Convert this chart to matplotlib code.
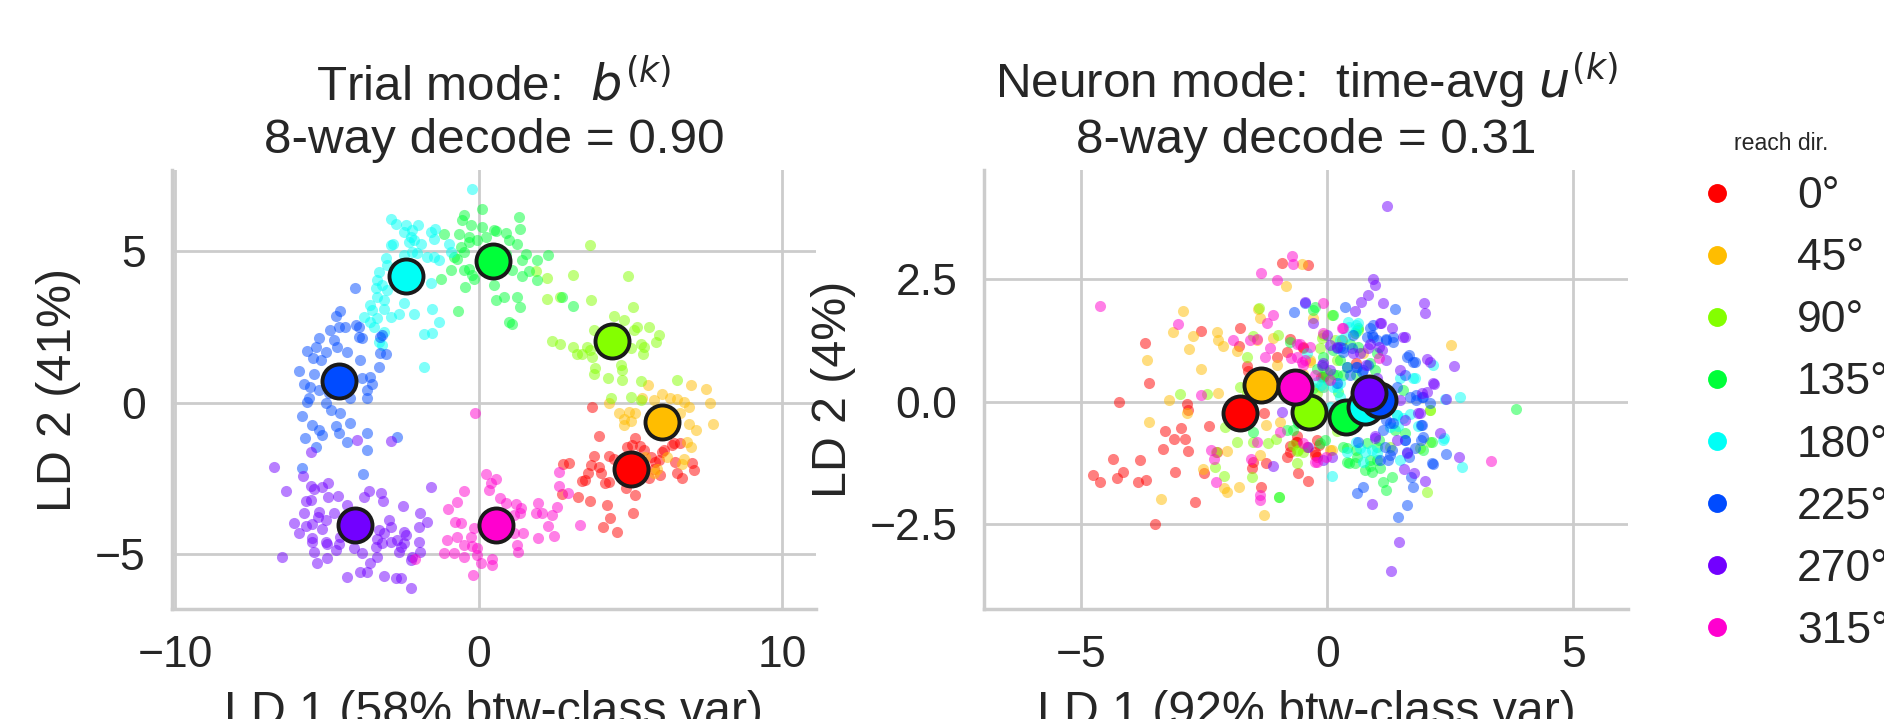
import matplotlib
matplotlib.use("Agg")
import matplotlib.pyplot as plt
from matplotlib.lines import Line2D
import numpy as np

plt.rcParams['font.family'] = ['Liberation Sans', 'DejaVu Sans']
plt.rcParams['axes.unicode_minus'] = True

# ---------------- data ----------------
dir_labels = ['0°', '45°', '90°', '135°', '180°', '225°', '270°', '315°']

trial_title = 'Trial mode:  $b^{(k)}$\n8-way decode = 0.90'
neuron_title = 'Neuron mode:  time-avg $u^{(k)}$\n8-way decode = 0.31'
trial_xlabel = 'LD 1 (58% btw-class var)'
trial_ylabel = 'LD 2 (41%)'
neuron_xlabel = 'LD 1 (92% btw-class var)'
neuron_ylabel = 'LD 2 (4%)'

trial_xticks = [-10, 0, 10]
trial_yticks = [-5, 0, 5]
neuron_xticks = [-5, 0, 5]
neuron_yticks = [-2.5, 0.0, 2.5]

# Trial-mode (left) trial projections per reach direction
trial_0 = [(3.74,-0.13),(3.96,-1.10),(5.17,-1.18),(5.06,-1.40),(4.90,-1.45),(5.31,-1.43),(5.45,-1.56),
           (6.05,-1.62),(6.10,-1.56),(6.43,-1.34),(6.65,-1.32),(6.38,-1.40),(4.29,-1.76),(3.80,-1.76),
           (4.46,-1.84),(4.68,-1.95),(3.69,-2.06),(3.96,-2.13),(2.79,-2.02),(2.98,-2.00),(3.60,-2.33),
           (4.02,-2.31),(3.41,-2.57),(3.52,-2.55),(4.18,-2.64),(4.29,-2.60),(5.67,-1.78),(5.83,-1.95),
           (5.94,-1.89),(5.78,-2.17),(5.99,-2.38),(5.61,-2.49),(6.49,-1.95),(7.04,-2.00),(7.09,-2.22),
           (6.54,-2.33),(6.71,-2.49),(4.86,-2.82),(5.14,-3.04),(2.76,-3.01),(3.27,-3.12),(3.67,-3.23),
           (4.22,-3.37),(4.33,-3.81),(5.09,-3.62),(4.10,-4.09),(4.55,-4.27),(5.3,-2.5),(5.5,-2.2)]
trial_45 = [(5.59,0.58),(7.00,0.58),(7.51,0.44),(7.62,0.00),(6.05,0.28),(6.32,0.17),(6.54,0.11),
            (6.76,0.03),(6.93,-0.13),(4.29,0.00),(5.39,0.17),(4.62,-0.33),(4.95,-0.30),(5.17,-0.33),
            (4.79,-0.55),(5.01,-0.60),(4.79,-0.74),(5.78,0.09),(6.65,-0.35),(6.93,-0.71),(7.15,-0.90),
            (7.73,-0.71),(6.87,-1.29),(7.00,-1.45),(6.76,-1.84),(6.71,-2.02),(6.21,-1.78),(5.50,-1.78),
            (5.88,-2.17),(5.78,-2.33),(6.3,-0.5),(5.8,-0.9)]
trial_90 = [(3.66,5.19),(4.92,4.17),(3.12,4.20),(2.26,4.11),(2.26,3.43),(2.70,3.47),(3.71,3.38),
            (5.09,3.16),(4.48,2.85),(4.81,2.72),(3.80,2.39),(5.23,2.48),(5.12,2.39),(5.63,2.50),
            (5.94,2.23),(5.86,2.01),(2.43,2.04),(2.68,1.95),(3.12,1.84),(3.25,1.60),(3.41,1.62),
            (3.58,1.84),(3.67,1.73),(3.74,1.51),(5.01,1.79),(5.34,1.93),(5.45,1.84),(5.42,1.60),
            (4.70,1.24),(4.74,1.07),(3.85,1.13),(3.80,0.94),(4.26,0.83),(4.74,0.74),(5.36,0.72),
            (6.54,0.74),(1.90,4.33),(4.37,0.17),(5.03,0.20),(5.34,0.09)]
trial_135 = [(-0.48,6.18),(0.12,6.37),(-0.54,6.01),(-0.26,5.85),(0.12,5.79),(0.50,5.68),(-1.14,5.57),
             (-0.65,5.57),(-0.32,5.47),(-0.04,5.35),(0.23,5.47),(-0.32,5.30),(-0.59,5.14),(-0.48,4.97),
             (-0.81,4.81),(-0.70,4.75),(-0.32,4.42),(-0.48,4.37),(-0.21,4.20),(-0.15,4.09),(-0.90,4.37),
             (-1.23,4.09),(-0.43,3.80),(0.50,3.88),(0.56,3.39),(-0.68,3.03),(1.33,6.12),(1.36,5.71),
             (0.56,5.66),(0.89,5.60),(1.00,5.36),(1.27,5.23),(1.55,4.89),(1.44,4.70),(1.93,4.70),
             (2.28,4.87),(1.66,4.35),(1.44,4.17),(1.93,4.06),(1.11,4.37),(1.27,3.49),(0.83,3.47),
             (1.38,3.14),(1.00,2.67),(1.11,2.59),(2.76,3.49),(3.12,3.19),(0.2,4.8),(0.7,4.5),
             (0.9,4.9),(0.3,4.3)]
trial_180 = [(-2.87,6.04),(-2.73,5.90),(-2.40,5.87),(-1.99,5.85),(-2.46,5.63),(-2.18,5.68),(-2.24,5.47),
             (-2.13,5.35),(-1.91,5.24),(-2.29,5.30),(-2.82,5.24),(-2.90,5.19),(-1.58,5.63),(-1.42,5.74),
             (-1.47,5.41),(-0.98,5.24),(-0.92,4.97),(-2.18,4.97),(-2.02,4.92),(-2.46,4.86),(-1.69,4.81),
             (-1.47,4.81),(-1.31,4.70),(-3.06,4.76),(-3.01,4.54),(-3.28,4.32),(-3.34,4.05),(-3.39,3.78),
             (-3.17,3.89),(-3.01,3.72),(-3.34,3.49),(-3.12,3.38),(-3.56,3.21),(-3.50,3.05),(-3.12,3.10),
             (-3.78,2.83),(-3.56,2.67),(-3.34,2.78),(-2.90,2.83),(-2.62,2.92),(-2.46,3.27),(-2.13,2.94),
             (-1.53,3.10),(-1.31,2.67),(-1.80,2.28),(-1.53,2.30),(-3.45,2.50),(-3.12,2.34),(-3.28,2.01),
             (-3.17,1.90),(-1.80,1.18),(-1.58,3.93),(-0.21,7.04)]
trial_225 = [(-4.07,3.79),(-4.55,3.03),(-4.68,2.85),(-4.91,2.41),(-4.60,2.48),(-4.41,2.48),(-4.05,2.56),
             (-3.94,2.50),(-5.26,2.12),(-4.77,2.08),(-4.66,1.84),(-5.64,1.71),(-5.37,1.84),(-5.04,1.68),
             (-4.33,1.68),(-3.94,2.17),(-3.83,2.12),(-3.23,2.17),(-3.17,2.23),(-3.25,1.65),(-3.06,1.62),
             (-3.89,1.40),(-5.45,1.46),(-5.20,1.40),(-5.90,1.05),(-5.42,0.96),(-5.75,0.61),(-5.56,0.52),
             (-5.26,0.41),(-5.59,0.14),(-4.93,0.31),(-4.22,0.14),(-3.83,0.80),(-3.56,0.85),(-3.50,0.63),
             (-3.67,0.41),(-3.67,0.14),(-3.28,1.18),(-5.64,0.03),(-5.04,-0.02),(-4.87,-0.24),(-4.55,-0.35),
             (-5.81,-0.44),(-5.48,-0.74),(-5.26,-0.90),(-5.15,-1.07),(-4.60,-1.01),(-4.22,-0.66),
             (-4.71,-0.77),(-5.73,-1.16),(-5.37,-1.45),(-4.33,-1.31),(-3.67,-0.99),(-3.67,-1.56),
             (-2.70,-1.14),(-5.81,-2.14),(-3.81,-2.35)]
trial_270 = [(-6.74,-2.11),(-6.36,-2.90),(-5.78,-2.42),(-5.53,-2.75),(-5.42,-2.86),(-5.15,-2.79),
             (-4.96,-2.64),(-4.63,-3.07),(-4.96,-3.12),(-5.70,-3.23),(-5.53,-3.21),(-5.75,-3.65),
             (-5.26,-3.59),(-5.29,-3.76),(-5.04,-3.87),(-5.48,-4.00),(-6.08,-3.98),(-5.92,-4.28),
             (-5.70,-4.06),(-5.15,-4.17),(-4.77,-3.65),(-4.33,-3.37),(-3.78,-3.12),(-3.61,-2.90),
             (-3.21,-2.97),(-3.14,-3.23),(-2.49,-3.41),(-1.93,-3.63),(-1.71,-3.92),(-1.97,-4.11),
             (-2.95,-3.85),(-2.90,-4.09),(-3.28,-4.20),(-3.12,-4.31),(-3.34,-4.50),(-2.68,-4.53),
             (-2.46,-4.25),(-2.40,-4.36),(-3.39,-4.75),(-3.17,-4.64),(-2.90,-4.58),(-2.57,-4.75),
             (-2.46,-4.64),(-1.97,-4.58),(-1.93,-4.91),(-2.18,-5.07),(-2.24,-5.18),(-2.62,-4.91),
             (-5.48,-4.47),(-5.48,-4.58),(-5.04,-4.58),(-4.98,-4.66),(-5.42,-4.91),(-4.98,-5.13),
             (-4.71,-4.86),(-4.60,-4.66),(-4.55,-4.44),(-4.11,-4.80),(-3.83,-4.97),(-3.34,-5.07),
             (-3.56,-5.27),(-3.89,-5.57),(-3.67,-5.57),(-5.31,-5.29),(-6.47,-5.10),(-4.35,-5.73),
             (-3.12,-5.71),(-2.73,-5.79),(-2.57,-5.79),(-2.24,-6.12),(-1.56,-2.79),(-4.00,-1.23),
             (-2.90,-1.25),(-5.53,-1.62)]
trial_315 = [(-0.10,-0.33),(0.23,-2.35),(0.59,-2.53),(0.40,-2.66),(0.34,-2.88),(-0.48,-2.90),
             (-0.72,-3.26),(0.70,-3.15),(0.89,-3.32),(-1.01,-3.52),(-0.79,-3.92),(-0.59,-3.98),
             (-0.70,-4.42),(-0.15,-4.14),(-0.26,-4.42),(-1.03,-4.53),(-0.48,-4.69),(-0.21,-4.72),
             (-0.04,-4.80),(-1.14,-4.96),(-0.81,-4.96),(-0.48,-5.07),(-0.04,-5.02),(0.09,-5.27),
             (0.45,-5.16),(0.45,-5.35),(-0.18,-5.68),(-2.08,-5.16),(0.89,-3.87),(1.22,-3.34),
             (1.41,-3.48),(1.38,-3.62),(1.16,-3.70),(1.95,-3.30),(1.91,-3.65),(2.10,-3.62),
             (2.43,-3.70),(2.57,-3.43),(2.65,-2.28),(2.65,-2.75),(2.94,-2.99),(2.28,-4.06),
             (2.50,-4.39),(1.95,-4.47),(3.36,-4.03),(1.27,-4.69),(1.30,-4.91),(1.47,-4.31),
             (1.16,-4.31),(0.3,-4.2),(0.8,-4.4),(0.5,-3.7)]

trial_centroid_x = [5.03, 6.05, 4.40, 0.47, -2.40, -4.59, -4.07, 0.59]
trial_centroid_y = [-2.17, -0.63, 2.04, 4.66, 4.17, 0.70, -4.03, -4.03]

# Neuron-mode (right) trial projections per reach direction
neuron_0 = [(-3.71,1.20),(-3.62,0.37),(-4.23,-0.01),(-3.31,-0.59),(-3.11,-0.76),(-2.98,-0.53),
            (-2.89,-0.76),(-2.84,-1.00),(-3.35,-0.97),(-4.35,-1.17),(-3.80,-1.19),(-4.15,-1.44),
            (-4.28,-1.56),(-4.76,-1.49),(-4.62,-1.64),(-3.84,-1.63),(-3.69,-1.60),(-3.10,-1.43),
            (-2.51,-1.46),(-2.70,-2.04),(-3.51,-2.50),(-2.57,1.44),(-1.78,1.49),(-1.79,1.13),
            (-1.64,0.72),(-1.61,0.63),(-1.03,0.90),(-0.83,1.01),(-0.93,2.81),(-2.41,-0.49),
            (-2.25,-1.02),(-2.86,-0.04),(-2.83,-0.17),(-1.29,-0.24),(-1.34,-1.73),(-0.63,-0.82),
            (-0.77,-0.90),(-0.82,-1.13),(-0.59,-1.45),(-0.39,-1.61),(-1.51,-1.22),(-1.24,-1.26),
            (-0.77,1.28),(-0.49,1.08),(-0.39,2.78),(-1.54,-1.36),(-0.62,-0.82),(-0.25,-1.02),
            (-0.22,-1.12),(-0.08,0.50),(0.29,1.25),(-0.49,1.11),(-0.12,0.50),(-0.18,-0.88),
            (-0.25,-1.09),(-0.22,-0.78),(-0.62,-0.71),(-0.42,-0.92),(-0.76,-1.02),(0.59,0.78)]
neuron_45 = [(-2.93,1.84),(-3.13,1.41),(-2.74,1.33),(-2.81,1.07),(-3.67,0.84),(-2.56,0.67),
             (-2.24,1.41),(-2.22,1.25),(-2.12,1.13),(-1.84,1.03),(-1.42,1.89),(-1.36,1.70),
             (-1.10,1.30),(-1.03,0.74),(-0.85,2.35),(-0.51,2.79),(-3.22,0.03),(-3.62,-0.42),
             (-2.85,-0.23),(-2.22,0.17),(-2.05,-1.00),(-2.52,-1.38),(-2.10,-1.76),(-2.05,-1.83),
             (-1.80,-1.74),(-3.39,-1.99),(-1.29,-2.31),(-1.37,-1.09),(-1.24,-0.48),(-0.96,-0.41),
             (-1.44,1.25),(-0.35,0.84),(2.52,1.15),(0.09,-0.99),(-0.29,1.69),(-0.15,0.30),
             (-0.35,0.81),(-0.49,0.57),(-0.08,0.30),(0.73,0.98),(0.05,-0.99)]
neuron_90 = [(-2.99,0.15),(-2.44,0.15),(-1.64,0.90),(-1.52,1.33),(-1.78,0.30),(-2.08,-0.51),
             (-1.83,-0.83),(-1.51,-0.82),(-1.20,-0.85),(-1.05,-0.77),(-2.29,-1.34),(-2.10,-1.51),
             (-1.54,-1.53),(-0.98,-1.95),(-0.61,-1.00),(-1.00,1.35),(-1.64,0.17),(0.09,1.76),
             (-0.10,1.30),(0.63,1.45),(-0.15,1.08),(2.09,-0.17),(2.03,-1.83),(2.09,-0.82),
             (1.88,-0.95),(-0.59,-0.99),(0.15,1.25),(-1.39,1.90),(-2.26,-1.02),(-0.3,-0.3),
             (0.2,-0.6),(-0.6,0.4),(-0.08,1.35),(-0.01,0.61),(-0.22,0.17),(2.08,-0.17),
             (1.27,-0.92),(-0.69,-0.88),(-0.49,-1.02),(-0.62,-1.26),(0.19,0.84)]
neuron_135 = [(-0.29,1.87),(0.11,1.76),(0.63,1.49),(0.56,1.39),(0.46,1.18),(0.12,1.05),(-0.08,0.91),
              (0.26,0.84),(0.39,0.71),(0.59,0.54),(0.19,0.54),(-0.08,0.50),(-0.22,0.67),(0.87,0.78),
              (0.97,0.64),(1.54,0.23),(0.32,-0.92),(0.39,-0.95),(0.59,-0.99),(0.39,-1.22),(0.56,-1.26),
              (0.87,-1.19),(0.76,-1.39),(0.90,-1.43),(1.06,-1.36),(1.14,-1.63),(1.20,-1.80),
              (1.31,-1.53),(1.04,-0.78),(1.00,-0.92),(1.58,-0.65),(1.95,-0.99),(2.12,-0.82),
              (3.83,-0.16),(-0.69,-0.58),(-0.59,-0.44),(-0.15,-0.85),(-0.05,-0.78),(-1.52,-0.61),
              (-0.82,-0.57),(-0.76,1.22),(-0.99,-1.95),(-0.25,1.92),(0.12,0.57),(0.32,0.54),
              (0.02,0.44),(0.22,0.20),(-0.29,0.27),(-0.35,0.03),(0.80,-0.85),(0.60,-1.12),
              (1.00,-1.19),(0.87,-1.32),(0.43,-1.26),(1.37,-0.58),(1.00,0.98),(0.63,1.11),
              (-0.08,0.71),(-0.62,-0.38)]
neuron_180 = [(0.41,1.62),(0.63,1.59),(0.59,1.44),(1.78,0.47),(2.15,0.74),(2.70,0.10),(2.39,0.06),
              (1.68,-0.25),(1.41,-0.27),(1.54,-0.34),(1.44,-0.50),(2.37,-0.75),(2.34,-0.78),
              (2.73,-1.34),(1.85,-0.50),(0.76,-1.02),(0.90,-0.99),(0.73,-1.22),(0.09,-1.51),
              (0.36,1.32),(0.26,1.25),(1.00,0.03),(1.14,-0.24),(0.26,0.10),(0.19,0.30),(-0.08,0.30),
              (0.05,-0.11),(0.29,-0.24),(0.93,-0.31),(1.48,0.47),(1.75,0.47),(1.41,-0.28),
              (1.27,-0.51),(0.66,-0.95),(0.39,-1.02),(0.59,-0.82),(-0.22,0.40),(-0.12,0.34),
              (0.12,0.30),(0.26,0.37),(0.43,1.52),(0.59,1.56),(-0.42,0.98),(1.00,-1.05),(1.48,-1.19)]
neuron_225 = [(1.37,1.89),(0.36,1.93),(-0.68,1.83),(1.62,0.91),(1.73,0.81),(1.58,0.54),(1.41,0.30),
              (1.68,0.10),(1.80,0.13),(1.95,0.10),(2.09,-0.02),(1.27,-0.11),(1.27,-0.44),(1.34,-0.44),
              (1.90,-0.48),(1.90,-0.78),(1.58,-0.78),(1.65,-1.12),(2.15,-1.27),(2.41,-1.07),
              (1.69,-1.54),(1.75,-1.73),(1.61,-2.10),(1.44,-2.35),(0.60,-1.87),(0.72,-1.73),
              (0.63,-0.82),(1.07,-1.19),(1.24,-1.19),(1.17,-0.92),(1.31,-0.99),(1.34,1.32),
              (1.20,1.25),(0.93,1.32),(0.87,1.49),(0.93,1.55),(0.49,1.08),(0.32,1.08),(0.59,0.71),
              (0.73,0.64),(0.46,0.54),(0.19,0.37),(0.53,1.35),(-0.46,2.01),(0.80,1.32),(0.90,1.35),
              (1.00,1.25),(1.20,1.28),(1.34,1.22),(0.83,0.74),(0.60,0.71),(0.70,0.61),(0.39,0.71),
              (1.78,0.81),(1.65,0.95),(1.92,0.10),(1.81,0.03),(1.92,-0.48),(1.95,-0.72),
              (2.12,-1.26),(1.58,-0.78),(1.20,-0.38),(1.14,-0.58),(1.27,-1.09),(1.61,-1.02),
              (1.78,-0.95),(0.26,1.11),(0.19,1.08),(0.32,1.01)]
neuron_270 = [(0.93,2.50),(0.97,2.37),(0.83,2.16),(0.68,2.03),(0.56,1.85),(1.12,2.00),(1.96,2.00),
              (1.98,1.81),(1.08,1.59),(1.31,1.49),(1.58,1.32),(2.03,0.86),(2.09,0.81),(2.57,0.72),
              (2.17,0.36),(1.92,0.18),(1.88,-0.24),(2.41,0.06),(2.29,-0.65),(1.62,-1.04),(1.56,-1.38),
              (1.76,-1.46),(1.98,-1.61),(2.68,-1.12),(0.90,-2.08),(-0.45,2.03),(-0.30,1.59),
              (-0.01,1.35),(0.05,1.15),(0.19,1.11),(0.66,0.98),(0.83,1.08),(1.04,1.10),(1.20,0.84),
              (1.48,0.64),(0.05,0.64),(-0.10,0.74),(-0.08,-1.19),(0.09,-1.12),(0.78,0.74),
              (0.97,-0.71),(1.00,0.47),(1.22,3.97),(1.46,-2.86),(1.29,-3.44),(-0.93,-0.21),
              (-1.10,-1.32),(-0.39,-0.92),(1.54,1.32),(1.10,1.05),(0.53,0.98),(-0.08,0.78),
              (2.15,0.37),(2.02,0.20),(1.85,-0.24),(1.48,0.03),(1.58,-0.38),(1.41,-0.78),
              (0.97,-0.75),(0.87,1.18),(1.07,1.59)]
neuron_315 = [(-4.62,1.94),(-3.04,1.58),(-1.34,2.61),(-1.03,2.47),(-0.71,2.96),(-0.69,2.79),
              (-1.10,1.76),(-1.23,1.59),(-1.91,1.25),(-1.57,1.25),(-1.44,1.28),(-1.17,1.08),
              (-1.27,0.91),(-0.73,0.88),(-0.62,0.91),(-0.52,0.81),(-2.56,0.13),(-2.37,-0.99),
              (-2.31,-1.16),(-2.26,-1.63),(-1.56,-1.16),(-1.38,-1.90),(-1.37,-2.00),(-1.44,-0.82),
              (-0.96,-0.61),(-0.49,-0.85),(-0.08,2.00),(0.29,1.49),(-0.45,0.84),(-0.62,1.18),
              (-0.25,0.54),(-0.25,-1.22),(3.32,-1.20),(1.04,0.88),(-0.56,1.18),(-0.35,1.11),
              (0.32,1.49),(0.05,0.44),(-0.49,0.74),(-0.08,1.39),(-0.22,-1.22),(-0.02,-1.12)]

neuron_centroid_x = [-1.77, -1.34, -0.37, 0.38, 0.77, 1.04, 0.85, -0.65]
neuron_centroid_y = [-0.23, 0.34, -0.21, -0.32, -0.11, 0.03, 0.17, 0.30]

trial_points = [trial_0, trial_45, trial_90, trial_135, trial_180, trial_225, trial_270, trial_315]
neuron_points = [neuron_0, neuron_45, neuron_90, neuron_135, neuron_180, neuron_225, neuron_270, neuron_315]

# ---------------- figure ----------------
W, H = 1884, 719
fig = plt.figure(figsize=(W / 200, H / 200), dpi=200, facecolor='white')
colors = [plt.cm.hsv(k / 8) for k in range(8)]
text_color = '0.15'

ax1 = fig.add_axes([172 / W, 110 / H, 644 / W, 439 / H])
ax2 = fig.add_axes([984 / W, 110 / H, 644 / W, 439 / H])


def style(ax):
    ax.set_facecolor('white')
    ax.set_axisbelow(True)
    ax.grid(True, color='0.8', linewidth=1.0)
    for s in ['top', 'right']:
        ax.spines[s].set_visible(False)
    for s in ['left', 'bottom']:
        ax.spines[s].set_color('0.8')
        ax.spines[s].set_linewidth(1.25)
    ax.tick_params(length=0, pad=9.5, labelsize=16, labelcolor=text_color)


def draw(ax, pts_list, cx, cy):
    for k, pts in enumerate(pts_list):
        arr = np.array(pts)
        ax.scatter(arr[:, 0], arr[:, 1], s=16, color=colors[k], alpha=0.5,
                   linewidths=0, zorder=2)
    for k in range(8):
        ax.scatter([cx[k]], [cy[k]], s=150, color=colors[k], edgecolors='0.1',
                   linewidths=1.4, zorder=3 + k)


style(ax1)
draw(ax1, trial_points, trial_centroid_x, trial_centroid_y)
ax1.set_xlim(-10.1, 11.12)
ax1.set_ylim(-6.80, 7.67)
ax1.set_xticks(trial_xticks)
ax1.set_yticks(trial_yticks)
ax1.set_title(trial_title, fontsize=17.8, color=text_color, pad=6)
ax1.set_xlabel(trial_xlabel, fontsize=17.4, color=text_color, labelpad=5)
ax1.set_ylabel(trial_ylabel, fontsize=17.4, color=text_color, labelpad=5)

style(ax2)
draw(ax2, neuron_points, neuron_centroid_x, neuron_centroid_y)
ax2.set_xlim(-6.98, 6.11)
ax2.set_ylim(-4.22, 4.71)
ax2.set_xticks(neuron_xticks)
ax2.set_yticks(neuron_yticks)
ax2.set_title(neuron_title, fontsize=17.8, color=text_color, pad=6)
ax2.set_xlabel(neuron_xlabel, fontsize=17.4, color=text_color, labelpad=5)
ax2.set_ylabel(neuron_ylabel, fontsize=17.4, color=text_color, labelpad=5)

handles = [Line2D([], [], marker='o', linestyle='none', markersize=6.8,
                  markerfacecolor=colors[k], markeredgewidth=0) for k in range(8)]
leg = fig.legend(handles, dir_labels, title='reach dir.', loc='upper left',
                 bbox_to_anchor=(1672.6 / W, 1 - 132 / H), frameon=False,
                 fontsize=16, title_fontsize=8.3, handlelength=2.0, handletextpad=0.8,
                 labelspacing=0.475, borderpad=0, borderaxespad=0)
for t in leg.get_texts():
    t.set_color(text_color)
leg.get_title().set_color(text_color)

fig.savefig('out.png', dpi=200, facecolor='white')
